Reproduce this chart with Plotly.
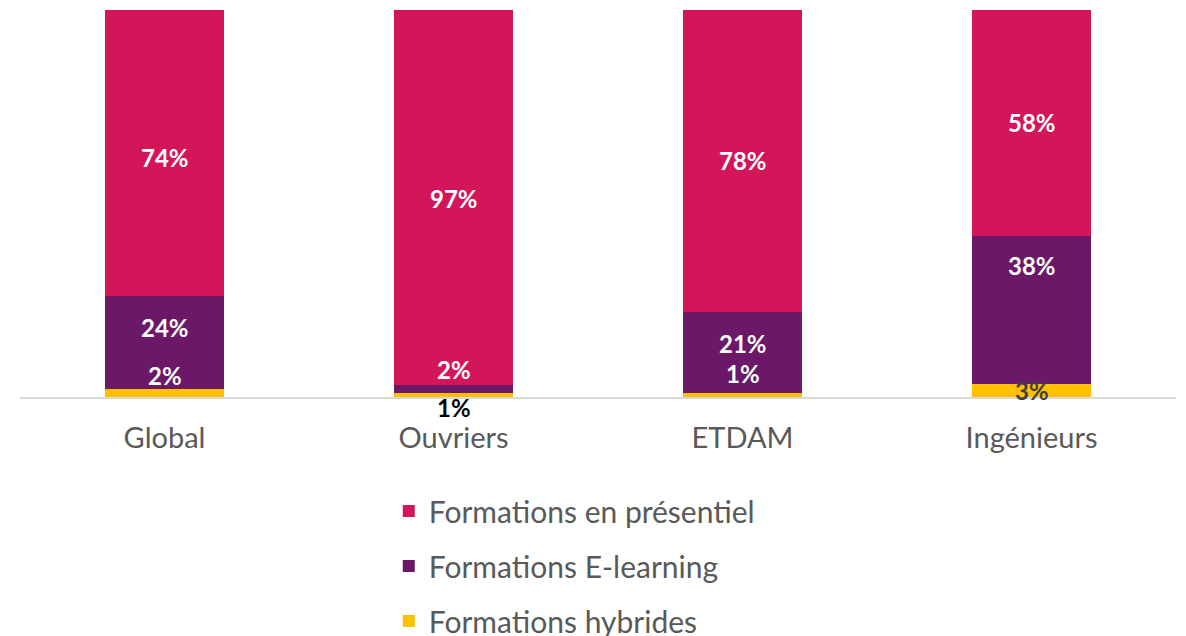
import plotly.graph_objects as go

categories = ["Global", "Ouvriers", "ETDAM", "Ingénieurs"]
hybrides = [2, 1, 1, 3.4]
elearning = [24, 2, 21, 38.2]
presentiel = [74, 97, 78, 58.4]

# label pixel shifts (styling only)
shift_hyb = [18, -12, 22, 0]
shift_el = [15, 20, 9, 44]
shift_pr = [-4, -1, 0, 1]
hyb_colors = ["white", "black", "white", "#404040"]

PINK = "#D31559"
PURPLE = "#6B1868"
YELLOW = "#FFC000"
FONT = "Lato"

fig = go.Figure()
for name, vals, col, rank in [
    ("Formations hybrides", hybrides, YELLOW, 3),
    ("Formations E-learning", elearning, PURPLE, 2),
    ("Formations en présentiel", presentiel, PINK, 1),
]:
    fig.add_trace(go.Bar(x=categories, y=vals, name=name, marker_color=col,
                         marker_line_width=0, legendgroup=name, legendrank=rank,
                         width=0.41))

for i, c in enumerate(categories):
    h, e, p = hybrides[i], elearning[i], presentiel[i]
    for yc, val, sh, col in [
        (h / 2, h, shift_hyb[i], hyb_colors[i]),
        (h + e / 2, e, shift_el[i], "white"),
        (h + e + p / 2, p, shift_pr[i], "white"),
    ]:
        fig.add_annotation(x=c, y=yc, text=f"{round(val)}%", showarrow=False, yshift=sh,
                           font=dict(family=FONT, size=24, color=col, weight="bold"))

fig.update_layout(
    barmode="stack",
    width=1178, height=628,
    margin=dict(l=12, r=10, t=2, b=239, autoexpand=False),
    paper_bgcolor="white", plot_bgcolor="white",
    xaxis=dict(showline=True, linecolor="#D9D9D9", linewidth=1.5, ticks="",
               ticklabelstandoff=14,
               tickfont=dict(family=FONT, size=29, color="#595959")),
    yaxis=dict(range=[0, 100], visible=False, showgrid=False),
    legend=dict(orientation="v", x=0.319, xanchor="left",
                yref="container", y=1 - 477 / 628, yanchor="top",
                traceorder="grouped", tracegroupgap=13,
                font=dict(family=FONT, size=30, color="#595959")),
    showlegend=True,
)
fig.write_html("out.html")
